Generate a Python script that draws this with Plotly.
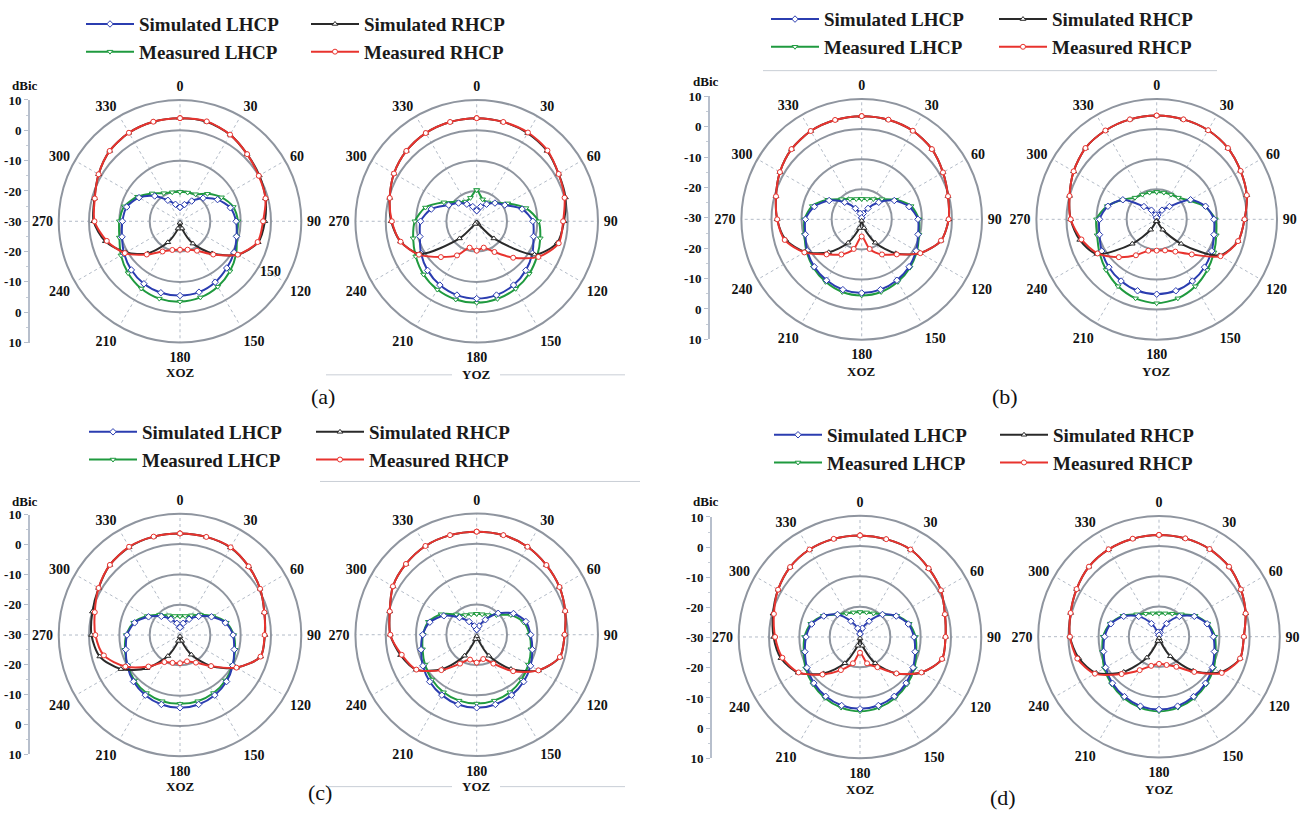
import plotly.graph_objects as go

W, H = 1304, 823

# ---------------- data (dBic, theta = 0..345 step 15) ----------------
theta_deg = list(range(0, 360, 15))
angle_ticks = list(range(0, 360, 30))
angle_labels = [str(a) for a in angle_ticks]
side_tickvals = [40, 30, 20, 10, 0, -10, -20, -30, -40]
side_ticktext = ["10", "0", "-10", "-20", "-30", "-20", "-10", "0", "10"]
series_names = ["Simulated LHCP", "Measured LHCP", "Simulated RHCP", "Measured RHCP"]
plane_names = ["XOZ", "YOZ"]
panel_labels = ["(a)", "(b)", "(c)", "(d)"]

a_xoz_sim_lhcp = [-25.4,-24.3,-22.3,-19.2,-15.7,-12.8,-11.5,-10.7,-9.4,-8.2,-6.8,-5.8,-5.5,-5.6,-6.2,-7.3,-8.7,-10.2,-11.0,-11.8,-14.4,-18.2,-22.0,-24.2]
a_xoz_meas_lhcp = [-20.3,-20.2,-19.7,-17.2,-14.2,-11.8,-10.9,-10.6,-8.6,-6.7,-5.1,-4.0,-3.5,-3.6,-4.4,-5.8,-7.5,-9.3,-10.0,-11.0,-13.8,-17.0,-19.3,-20.1]
a_xoz_sim_rhcp = [4.0,4.0,3.0,1.3,0.2,-0.8,-2.0,-3.3,-8.0,-15.0,-21.5,-27.5,-29.5,-27.5,-22.0,-15.0,-9.5,-4.5,-1.5,-0.8,1.0,2.8,3.7,4.0]
a_xoz_meas_rhcp = [4.0,4.1,3.0,1.3,0.0,-0.8,-2.6,-3.5,-8.0,-14.5,-18.8,-20.3,-20.6,-20.2,-18.5,-14.5,-9.0,-5.0,-1.8,-0.9,1.0,2.8,3.7,4.0]

a_yoz_sim_lhcp = [-26.5,-25.0,-23.5,-21.5,-19.3,-14.5,-11.5,-10.6,-8.8,-7.1,-5.7,-4.8,-4.5,-4.8,-5.7,-7.1,-8.8,-10.6,-11.5,-14.5,-19.3,-21.5,-23.5,-25.0]
a_yoz_meas_lhcp = [-19.7,-22.5,-22.8,-21.5,-18.2,-13.2,-9.6,-8.3,-7.0,-5.5,-4.3,-3.5,-3.1,-3.3,-4.0,-5.2,-6.8,-8.3,-9.6,-12.5,-17.5,-21.0,-22.5,-22.0]
a_yoz_sim_rhcp = [4.0,3.9,3.6,2.8,1.2,0.3,-1.2,-2.5,-8.0,-22.0,-29.0,-29.5,-29.6,-29.5,-29.0,-22.0,-8.5,-4.0,-1.8,-0.3,1.5,2.8,3.6,3.9]
a_yoz_meas_rhcp = [4.0,3.9,3.8,3.0,1.2,0.0,-1.5,-2.0,-6.5,-13.0,-18.3,-21.0,-20.3,-21.0,-17.0,-13.3,-8.0,-4.0,-2.0,-0.3,1.5,2.8,3.6,3.9]

b_xoz_sim_lhcp = [-29.5,-28.0,-25.8,-22.0,-17.5,-13.7,-11.3,-10.6,-9.1,-7.7,-6.6,-5.8,-5.5,-5.8,-6.6,-7.7,-9.1,-10.6,-11.3,-13.7,-17.5,-22.0,-25.8,-28.0]
b_xoz_meas_lhcp = [-23.2,-23.0,-22.2,-20.5,-17.0,-13.0,-11.0,-10.3,-8.8,-7.3,-6.0,-5.0,-4.7,-5.0,-6.0,-7.3,-8.8,-10.3,-11.0,-13.0,-17.0,-20.5,-22.2,-23.0]
b_xoz_sim_rhcp = [4.3,4.3,4.0,3.0,1.2,-0.3,-1.1,-2.7,-7.5,-14.0,-21.0,-27.0,-29.5,-27.0,-21.0,-14.5,-8.3,-3.8,-1.9,-0.5,1.4,3.0,3.9,4.2]
b_xoz_meas_rhcp = [4.3,4.3,4.0,3.0,1.2,-0.3,-1.1,-2.7,-7.5,-13.5,-16.5,-19.8,-24.3,-19.8,-16.5,-13.5,-8.0,-3.5,-1.9,-0.5,1.4,3.0,3.9,4.2]

b_yoz_sim_lhcp = [-29.5,-28.5,-26.5,-24.0,-17.0,-13.2,-11.0,-10.3,-8.9,-7.5,-6.3,-5.4,-5.1,-5.4,-6.3,-7.5,-8.9,-10.3,-11.0,-13.2,-17.0,-24.0,-26.5,-28.5]
b_yoz_meas_lhcp = [-20.9,-20.8,-20.5,-19.8,-17.5,-13.5,-10.5,-9.5,-8.0,-6.2,-4.3,-2.8,-2.1,-2.8,-4.3,-6.2,-8.0,-9.5,-10.0,-13.0,-17.0,-19.8,-20.5,-20.8]
b_yoz_sim_rhcp = [4.5,4.4,4.2,3.5,2.2,1.0,-0.8,-2.0,-6.0,-18.5,-26.0,-29.3,-29.6,-29.3,-26.0,-18.5,-7.0,-3.5,-1.4,0.0,1.9,3.5,4.1,4.4]
b_yoz_meas_rhcp = [4.5,4.4,4.2,3.5,2.2,1.0,-0.8,-2.0,-5.5,-13.5,-17.6,-19.3,-19.6,-19.2,-16.2,-12.2,-7.3,-4.1,-1.4,0.0,1.9,3.5,4.1,4.4]

c_xoz_sim_lhcp = [-27.5,-26.0,-24.0,-21.3,-18.0,-14.5,-12.5,-11.5,-9.9,-8.3,-7.1,-6.3,-6.0,-6.3,-7.1,-8.3,-9.9,-11.5,-12.5,-14.5,-18.0,-21.3,-24.0,-26.0]
c_xoz_meas_lhcp = [-23.8,-23.5,-22.5,-20.5,-17.5,-14.2,-12.3,-11.2,-10.0,-8.8,-7.9,-7.4,-7.3,-7.4,-7.9,-8.8,-10.0,-11.2,-12.3,-14.2,-17.5,-20.5,-22.5,-23.5]
c_xoz_sim_rhcp = [3.5,3.5,3.3,2.0,0.5,-1.2,-2.0,-2.5,-8.5,-15.5,-22.5,-28.0,-29.5,-28.0,-22.0,-14.5,-7.5,-2.6,-0.8,-0.1,1.0,2.7,3.5,3.6]
c_xoz_meas_rhcp = [3.5,3.5,3.4,2.0,0.5,-1.2,-2.1,-2.5,-8.5,-15.5,-19.5,-21.0,-20.7,-20.5,-19.7,-15.3,-9.2,-4.0,-2.1,-0.9,1.0,2.7,3.6,3.6]

c_yoz_sim_lhcp = [-28.3,-27.0,-24.3,-20.0,-16.0,-13.2,-12.2,-11.0,-9.5,-8.1,-7.0,-6.2,-5.9,-6.2,-7.0,-8.1,-9.5,-11.0,-12.2,-14.0,-17.5,-22.0,-25.0,-27.0]
c_yoz_meas_lhcp = [-23.1,-23.0,-22.5,-20.8,-17.0,-14.0,-12.6,-11.5,-10.3,-9.1,-8.1,-7.5,-7.3,-7.5,-8.1,-9.1,-10.3,-11.5,-12.3,-13.5,-16.5,-20.5,-22.5,-23.0]
c_yoz_sim_rhcp = [4.0,4.0,3.5,2.5,1.5,0.2,-1.0,-1.6,-6.5,-14.0,-22.0,-28.5,-29.5,-28.5,-22.0,-14.0,-7.0,-4.0,-1.5,-0.3,1.9,3.0,3.8,4.0]
c_yoz_meas_rhcp = [4.0,4.0,3.5,2.5,1.5,0.2,-1.0,-1.6,-6.5,-13.0,-19.0,-21.7,-20.8,-21.5,-19.0,-13.5,-7.0,-4.4,-1.5,-0.3,1.9,3.0,3.8,4.0]

d_xoz_sim_lhcp = [-29.0,-27.0,-24.0,-19.5,-16.2,-13.5,-12.2,-11.2,-9.8,-8.5,-7.4,-6.6,-6.3,-6.6,-7.4,-8.5,-9.8,-11.2,-12.2,-13.5,-16.2,-19.5,-24.0,-27.0]
d_xoz_meas_lhcp = [-21.8,-21.6,-21.0,-19.5,-16.0,-13.2,-11.7,-10.8,-9.3,-8.0,-6.8,-5.9,-5.5,-5.9,-6.8,-8.0,-9.3,-10.8,-11.7,-13.2,-16.0,-19.5,-21.0,-21.6]
d_xoz_sim_rhcp = [3.5,3.4,3.3,2.0,0.8,-1.0,-1.8,-2.0,-6.6,-13.0,-20.0,-27.0,-29.5,-27.0,-20.0,-13.0,-6.5,-3.0,-1.5,-0.3,1.2,2.6,3.3,3.5]
d_xoz_meas_rhcp = [3.5,3.4,3.3,2.0,0.8,-1.0,-1.8,-2.0,-6.6,-13.0,-18.5,-21.0,-24.8,-21.0,-17.4,-12.5,-6.6,-3.5,-2.0,-0.6,1.2,2.6,3.3,3.5]

d_yoz_sim_lhcp = [-29.5,-28.5,-25.0,-20.5,-16.5,-13.5,-12.0,-11.0,-9.6,-8.2,-7.1,-6.2,-5.9,-6.2,-7.1,-8.2,-9.6,-11.0,-12.0,-13.5,-16.5,-20.5,-25.0,-28.5]
d_yoz_meas_lhcp = [-22.3,-22.0,-21.2,-19.5,-16.2,-13.3,-11.5,-10.6,-9.1,-7.8,-6.6,-5.7,-5.3,-5.7,-6.6,-7.8,-9.1,-10.6,-11.5,-13.3,-16.2,-19.5,-21.2,-22.0]
d_yoz_sim_rhcp = [3.7,3.7,3.5,2.8,1.3,-0.3,-1.9,-2.2,-6.5,-14.0,-22.5,-28.5,-29.5,-28.5,-22.0,-13.5,-6.0,-2.5,-0.5,0.3,1.5,2.8,3.4,3.6]
d_yoz_meas_rhcp = [3.7,3.7,3.5,2.8,1.3,-0.3,-1.9,-2.2,-6.0,-13.5,-18.5,-20.3,-21.0,-20.0,-17.2,-12.5,-5.5,-2.0,-0.5,0.3,1.5,2.8,3.4,3.6]

panels = [
    [[a_xoz_sim_lhcp, a_xoz_meas_lhcp, a_xoz_sim_rhcp, a_xoz_meas_rhcp],
     [a_yoz_sim_lhcp, a_yoz_meas_lhcp, a_yoz_sim_rhcp, a_yoz_meas_rhcp]],
    [[b_xoz_sim_lhcp, b_xoz_meas_lhcp, b_xoz_sim_rhcp, b_xoz_meas_rhcp],
     [b_yoz_sim_lhcp, b_yoz_meas_lhcp, b_yoz_sim_rhcp, b_yoz_meas_rhcp]],
    [[c_xoz_sim_lhcp, c_xoz_meas_lhcp, c_xoz_sim_rhcp, c_xoz_meas_rhcp],
     [c_yoz_sim_lhcp, c_yoz_meas_lhcp, c_yoz_sim_rhcp, c_yoz_meas_rhcp]],
    [[d_xoz_sim_lhcp, d_xoz_meas_lhcp, d_xoz_sim_rhcp, d_xoz_meas_rhcp],
     [d_yoz_sim_lhcp, d_yoz_meas_lhcp, d_yoz_sim_rhcp, d_yoz_meas_rhcp]],
]

# ---------------- layout geometry (pixels) ----------------
polar_geo = [  # (cx, cy, r) for XOZ, YOZ of each panel
    [(180, 216, 124), (476.7, 216, 124)],
    [(861.7, 214, 123), (1156.7, 214, 123)],
    [(180, 639, 124), (476.7, 638.7, 124)],
    [(860, 641, 124), (1159, 640.7, 123.5)],
]
side_axis_geo = [(30, 92, 340), (710, 88.3, 336.7), (30, 516, 760.7), (712, 518.3, 765)]
dbic_pos = [(25, 77), (706, 73), (25, 502), (706, 503)]
plane_label_y = [[371, 373], [370, 370], [794, 794], [797, 797]]
caption_pos = [(323, 395), (1005, 395), (320, 800), (1003, 805)]
legend_tops = [-5, -10, 412, 415]
legend_xs = [(81, 306), (766, 994), (84, 311), (769, 995)]

colors = ["#2b3db0", "#1f9a3f", "#2a2a2a", "#e8332e"]
symbols = ["diamond", "triangle-down", "triangle-up", "circle"]
draw_order = [1, 0, 2, 3]
SERIF = "Liberation Serif"


def px_x(x):
    return x / W


def px_y(y):
    return 1 - y / H


fig = go.Figure()
layout_extra = {}
annotations = []
shapes = []

theta_closed = theta_deg + [360]

for p in range(4):
    for k in range(2):
        idx = p * 2 + k + 1
        pname = "polar" if idx == 1 else f"polar{idx}"
        cx, cy, r = polar_geo[p][k]
        layout_extra[pname] = dict(
            domain=dict(x=[px_x(cx - r), px_x(cx + r)], y=[px_y(cy + r), px_y(cy - r)]),
            bgcolor="rgba(0,0,0,0)",
            angularaxis=dict(
                rotation=90, direction="clockwise", tickmode="array",
                tickvals=angle_ticks, ticktext=angle_labels,
                ticks="outside", ticklen=2, tickcolor="rgba(0,0,0,0)",
                showline=True, linecolor="#8f959f", linewidth=2,
                showgrid=True, gridcolor="#b3bbc7", gridwidth=1, griddash="dot",
                tickfont=dict(family=SERIF, size=14, color="#111", weight="bold"),
            ),
            radialaxis=dict(
                range=[-30, 10], tickmode="array", tickvals=[-20, -10, 0],
                showticklabels=False, ticks="", showline=False,
                showgrid=True, gridcolor="#8f959f", gridwidth=1.6,
            ),
        )
        for s in draw_order:
            vals = panels[p][k][s]
            lg_idx = p * 2 + (1 if s < 2 else 2)
            lg = "legend" if lg_idx == 1 else f"legend{lg_idx}"
            fig.add_trace(go.Scatterpolar(
                r=vals + [vals[0]], theta=theta_closed, subplot=pname,
                mode="lines+markers", name=series_names[s],
                line=dict(color=colors[s], width=2, shape="spline", smoothing=0.8),
                marker=dict(symbol=symbols[s], size=5, color="white",
                            line=dict(color=colors[s], width=1)),
                showlegend=(k == 0), legend=lg,
                legendrank=(1 if s in (0, 2) else 2),
                legendgroup=f"g{p}{s}",
                hoverinfo="skip",
            ))
        annotations.append(dict(
            x=px_x(cx), y=px_y(plane_label_y[p][k]), xref="paper", yref="paper",
            text=plane_names[k], showarrow=False, xanchor="center", yanchor="middle",
            font=dict(family=SERIF, size=13, color="#111", weight="bold")))

    # side dBic axis as a cartesian y axis
    ax_x, top, bot = side_axis_geo[p]
    xa = f"xaxis{p + 2}"
    ya = f"yaxis{p + 2}"
    layout_extra[xa] = dict(domain=[px_x(ax_x), px_x(ax_x) + 0.0005], visible=False,
                            range=[0, 1], anchor=f"y{p + 2}")
    layout_extra[ya] = dict(domain=[px_y(bot), px_y(top)], anchor=f"x{p + 2}",
                            range=[-40, 40], tickmode="array", tickvals=side_tickvals,
                            ticktext=side_ticktext, showline=True, linecolor="#b7bfcc",
                            linewidth=2, ticks="outside", ticklen=4, tickcolor="#b7bfcc",
                            minor=dict(ticks="outside", ticklen=2, dtick=5, tickcolor="#c5ccd6"),
                            showgrid=False, zeroline=False,
                            tickfont=dict(family=SERIF, size=13, color="#111", weight="bold"))
    fig.add_trace(go.Scatter(x=[None], y=[None], xaxis=f"x{p + 2}", yaxis=f"y{p + 2}",
                             showlegend=False, hoverinfo="skip"))
    dx, dy = dbic_pos[p]
    annotations.append(dict(x=px_x(dx), y=px_y(dy), xref="paper", yref="paper",
                            text="dBic", showarrow=False, xanchor="center", yanchor="middle",
                            font=dict(family=SERIF, size=13, color="#111", weight="bold")))
    cxp, cyp = caption_pos[p]
    annotations.append(dict(x=px_x(cxp), y=px_y(cyp), xref="paper", yref="paper",
                            text=panel_labels[p], showarrow=False, xanchor="center",
                            yanchor="middle", font=dict(family=SERIF, size=22, color="#111")))

    # legends (two columns per panel)
    for c in range(2):
        lg_idx = p * 2 + c + 1
        lg = "legend" if lg_idx == 1 else f"legend{lg_idx}"
        layout_extra[lg] = dict(
            x=px_x(legend_xs[p][c]), y=px_y(legend_tops[p]),
            xanchor="left", yanchor="top", orientation="v",
            bgcolor="rgba(0,0,0,0)", borderwidth=0, itemwidth=48,
            tracegroupgap=0, traceorder="grouped",
            font=dict(family=SERIF, size=19, color="#1a1a1a", weight="bold"),
        )

# stray label present in the original figure
annotations.append(dict(x=px_x(258), y=px_y(258), xref="paper", yref="paper", text="150",
                        showarrow=False, font=dict(family=SERIF, size=14, color="#111", weight="bold")))

# thin separator lines from the original layout
for (x0, x1, y) in [(326, 452, 373), (500, 625, 373), (763, 1217, 62),
                    (326, 452, 794), (500, 625, 794), (320, 640, 482)]:
    shapes.append(dict(type="line", xref="paper", yref="paper",
                       x0=px_x(x0), x1=px_x(x1), y0=px_y(y), y1=px_y(y),
                       line=dict(color="#c9ced6", width=1)))

fig.update_layout(
    width=W, height=H, autosize=False,
    margin=dict(l=0, r=0, t=0, b=0),
    paper_bgcolor="white", plot_bgcolor="white",
    annotations=annotations, shapes=shapes,
    **layout_extra,
)

fig.write_html("out.html", config={"displayModeBar": False},
               post_script="document.body.style.margin='0px';")
